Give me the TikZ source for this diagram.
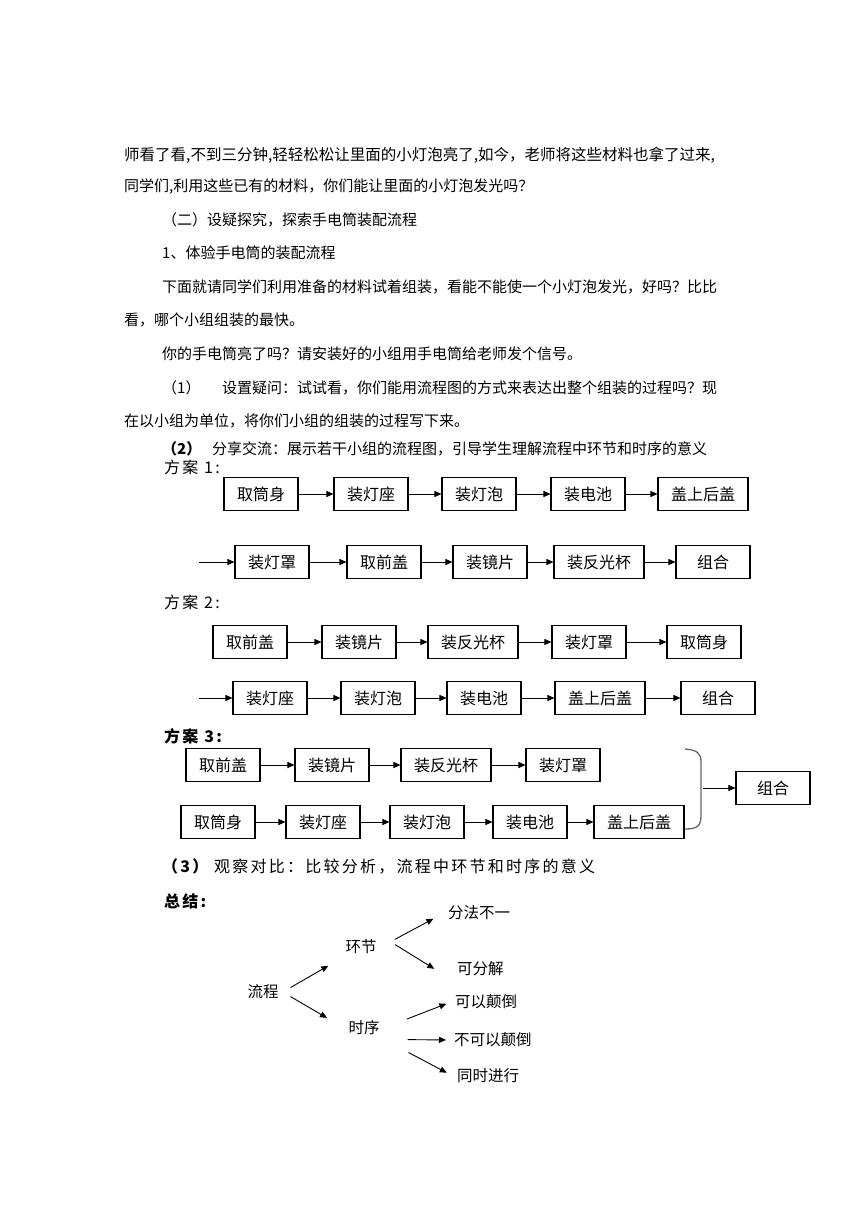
\documentclass[tikz,border=0pt]{standalone}
\usepackage{fontspec}
\setmainfont{Noto Sans CJK SC}
\newfontfamily\kai[LetterSpace=14]{Noto Sans CJK SC}
\usetikzlibrary{arrows.meta,positioning}
\tikzset{
  kuang/.style={draw,line width=1.1pt,minimum width=74pt,minimum height=33pt,inner xsep=13pt,font=\fontsize{16}{16}\selectfont},
  jian/.style={-{Triangle[length=7pt,width=6pt]},line width=0.9pt},
  hang/.style={anchor=west,inner sep=0pt,font=\fontsize{15}{18}\selectfont},
  biao/.style={anchor=west,inner sep=0pt,font=\kai\fontsize{16}{18}\selectfont},
  ci/.style={inner sep=4pt,font=\fontsize{15.5}{16}\selectfont},
  kuohao/.style={gray!80!black,line width=1.3pt}
}
\begin{document}
\begin{tikzpicture}[x=1pt,y=-1pt]
\path[use as bounding box,fill=white] (0,0) rectangle (860,1216);
% texto
\node[hang,font=\fontsize{15.5}{18}\selectfont] (l1) at (124,155) {师看了看,不到三分钟,轻轻松松让里面的小灯泡亮了,如今，老师将这些材料也拿了过来,};
\node[hang] (l2) at (124,187) {同学们,利用这些已有的材料，你们能让里面的小灯泡发光吗？};
\node[hang] (l3) at (162,220) {（二）设疑探究，探索手电筒装配流程};
\node[hang] (l4) at (162,253) {1、体验手电筒的装配流程};
\node[hang] (l5) at (162,287) {下面就请同学们利用准备的材料试着组装，看能不能使一个小灯泡发光，好吗？比比};
\node[hang] (l6) at (124,320) {看，哪个小组组装的最快。};
\node[hang] (l7) at (162,354) {你的手电筒亮了吗？请安装好的小组用手电筒给老师发个信号。};
\node[hang] (l8a) at (162,388) {（1）}; \node[hang] (l8b) at (222,388) {设置疑问：试试看，你们能用流程图的方式来表达出整个组装的过程吗？现};
\node[hang] (l9) at (124,421) {在以小组为单位，将你们小组的组装的过程写下来。};
\node[hang,font=\bfseries\fontsize{15}{18}\selectfont] (l10a) at (162,449) {（2）}; \node[hang] (l10b) at (212,449) {分享交流：展示若干小组的流程图，引导学生理解流程中环节和时序的意义};
% esquema 1
\node[biao] (f1) at (164,467) {方案 1:};
\foreach \t/\x [count=\i] in {取筒身/261,装灯座/371,装灯泡/479,装电池/588,盖上后盖/703}{\node[kuang] (a\i) at (\x,494) {\t};}
\foreach \i [count=\j from 2] in {1,...,4}{\draw[jian] (a\i) -- (a\j);}
\coordinate (b0) at (199,562);
\foreach \t/\x [count=\i] in {装灯罩/272,取前盖/384,装镜片/490,装反光杯/599,组合/713}{\node[kuang] (b\i) at (\x,562) {\t};}
\foreach \i [count=\j from 1] in {0,...,4}{\draw[jian] (b\i) -- (b\j);}
% esquema 2
\node[biao] (f2) at (164,602) {方案 2:};
\foreach \t/\x [count=\i] in {取前盖/250,装镜片/359,装反光杯/473,装灯罩/589,取筒身/704}{\node[kuang] (c\i) at (\x,642) {\t};}
\foreach \i [count=\j from 2] in {1,...,4}{\draw[jian] (c\i) -- (c\j);}
\coordinate (d0) at (199,698);
\foreach \t/\x [count=\i] in {装灯座/270,装灯泡/378,装电池/484,盖上后盖/600,组合/718}{\node[kuang] (d\i) at (\x,698) {\t};}
\foreach \i [count=\j from 1] in {0,...,4}{\draw[jian] (d\i) -- (d\j);}
% esquema 3
\node[biao,font=\kai\bfseries\fontsize{16}{18}\selectfont] (f3) at (164,736) {方案 3:};
\foreach \t/\x [count=\i] in {取前盖/223,装镜片/332,装反光杯/446,装灯罩/563}{\node[kuang] (e\i) at (\x,765) {\t};}
\foreach \i [count=\j from 2] in {1,...,3}{\draw[jian] (e\i) -- (e\j);}
\foreach \t/\x [count=\i] in {取筒身/218,装灯座/323,装灯泡/427,装电池/530,盖上后盖/639}{\node[kuang] (g\i) at (\x,822) {\t};}
\foreach \i [count=\j from 2] in {1,...,4}{\draw[jian] (g\i) -- (g\j);}
\draw[kuohao] (685,749) .. controls (697,750) and (701,753) .. (701,762) -- (701,816) .. controls (701,826) and (697,829) .. (685,829);
\node[kuang] (z) at (773,788) {组合};
\coordinate (kh) at (703,788); \draw[jian] (kh) -- (z);
% resumen
\node[biao] (l11) at (162,866) {{\bfseries （3）} 观察对比：比较分析，流程中环节和时序的意义};
\node[biao,font=\kai\bfseries\fontsize{16}{18}\selectfont] (l12) at (164,901) {总结:};
\node[ci] (lc) at (263,992) {流程};
\node[ci] (hj) at (361,947) {环节}; \node[ci] (sx) at (364,1028) {时序};
\node[ci,anchor=west] (ff) at (444,913) {分法不一}; \node[ci,anchor=west] (kf) at (453,969) {可分解};
\node[ci,anchor=west] (ky) at (451,1002) {可以颠倒}; \node[ci,anchor=west] (bk) at (450,1040) {不可以颠倒};
\node[ci,anchor=west] (ts) at (453,1076) {同时进行};
\draw[jian,shorten <=9pt,shorten >=15pt] (lc.east) -- (hj.south west);
\draw[jian,shorten <=9pt,shorten >=20pt] (lc.east) -- (sx.west);
\draw[jian,shorten <=16pt,shorten >=12pt] (hj.east) -- (ff.west);
\draw[jian,shorten <=17pt,shorten >=22pt] (hj.north east) -- (kf.south west);
\draw[jian,shorten <=25pt,shorten >=5pt] (sx.east) -- (ky.west);
\draw[jian,shorten <=24pt,shorten >=4pt] (sx.south east) -- (bk.west);
\draw[jian,shorten <=28pt,shorten >=7pt] (sx.south east) -- (ts.west);
\end{tikzpicture}
\end{document}
